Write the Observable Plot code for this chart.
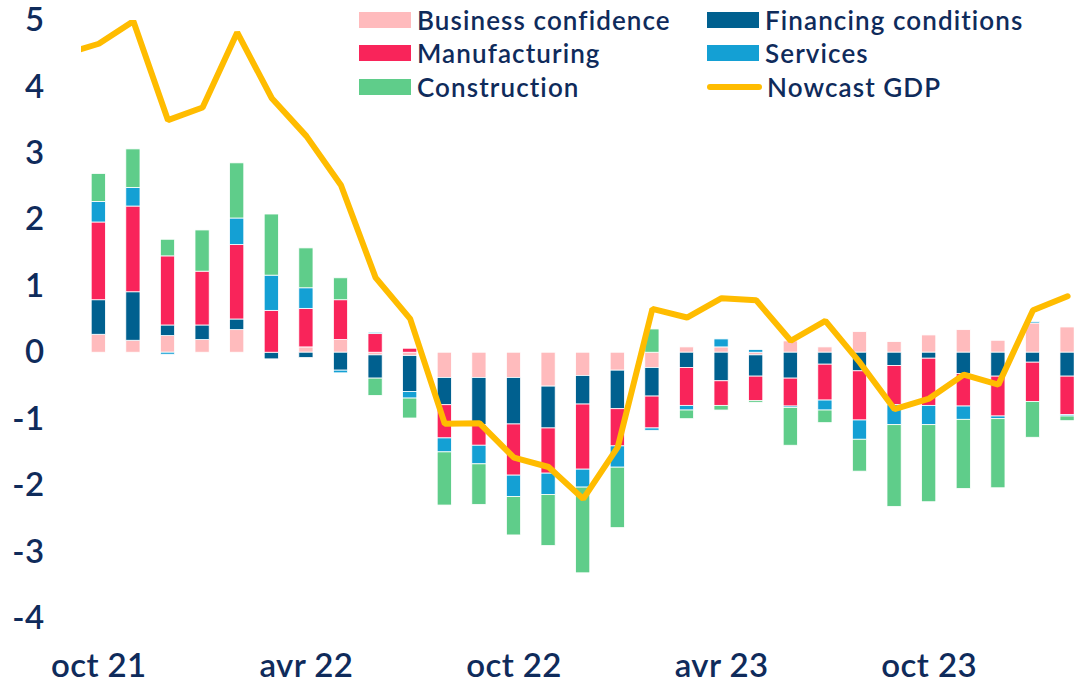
<!DOCTYPE html>
<html>
<head>
<meta charset="utf-8">
<script src="https://cdn.jsdelivr.net/npm/d3@7"></script>
<script src="https://cdn.jsdelivr.net/npm/@observablehq/plot@0.6"></script>
<style>
  html, body { margin: 0; padding: 0; background: #ffffff; }
  #wrap { position: relative; width: 1074px; height: 684px; overflow: hidden; font-family: Lato, "Noto Sans", sans-serif; color: #0F2B5B; }
  #legend { position: absolute; left: 359px; top: 3px; display: grid; grid-template-columns: 348px auto; grid-auto-rows: 33.5px; }
  .item { display: flex; align-items: center; font-size: 26px; font-weight: 600; letter-spacing: 1.1px; white-space: nowrap; }
  .sw { width: 52px; height: 16px; margin-right: 6px; flex: none; }
  .ln { width: 55px; height: 6px; border-radius: 3px; margin-right: 5px; flex: none; }
</style>
</head>
<body>
<div id="wrap"><div id="chart"></div><div id="legend"></div></div>
<script>
// Months (first one, sept 21, only carries the Nowcast GDP point that leads into the chart)
const months = ["sept 21","oct 21","nov 21","déc 21","janv 22","févr 22","mars 22","avr 22","mai 22","juin 22","juil 22","août 22","sept 22","oct 22","nov 22","déc 22","janv 23","févr 23","mars 23","avr 23","mai 23","juin 23","juil 23","août 23","sept 23","oct 23","nov 23","déc 23","janv 24","févr 24"];

const businessConfidence = [null, 0.27,0.18,0.25,0.19,0.34,0,0.08,0.19,-0.04,-0.05,-0.38,-0.38,-0.38,-0.51,-0.35,-0.27,-0.23,0.08,0.08,-0.04,0.17,0.08,0.31,0.16,0.26,0.34,0.18,0.44,0.38];
const financingConditions = [null, 0.52,0.73,0.16,0.22,0.16,-0.10,-0.08,-0.27,-0.35,-0.54,-0.41,-0.71,-0.70,-0.63,-0.43,-0.58,-0.43,-0.23,-0.43,-0.32,-0.39,-0.18,-0.28,-0.20,-0.09,-0.32,-0.36,-0.15,-0.36];
const manufacturing = [null, 1.17,1.29,1.04,0.81,1.12,0.63,0.58,0.60,0.28,0.06,-0.50,-0.31,-0.77,-0.68,-0.98,-0.56,-0.48,-0.57,-0.37,-0.37,-0.42,-0.54,-0.74,-0.59,-0.71,-0.49,-0.60,-0.59,-0.58];
const services = [null, 0.31,0.28,-0.03,0,0.40,0.53,0.31,-0.04,0.02,-0.10,-0.21,-0.28,-0.32,-0.32,-0.27,-0.32,-0.035,-0.07,0.12,0.04,-0.02,-0.15,-0.29,-0.30,-0.29,-0.20,-0.04,0.02,-0.02];
const construction = [null, 0.42,0.58,0.25,0.62,0.83,0.92,0.60,0.33,-0.26,-0.30,-0.80,-0.61,-0.58,-0.77,-1.29,-0.91,0.35,-0.13,-0.07,-0.025,-0.57,-0.19,-0.48,-1.23,-1.16,-1.04,-1.04,-0.54,-0.07];
const nowcastGDP = [4.49, 4.65,4.99,3.50,3.69,4.82,3.83,3.26,2.52,1.13,0.51,-1.07,-1.06,-1.58,-1.72,-2.20,-1.42,0.66,0.53,0.82,0.79,0.18,0.48,-0.15,-0.85,-0.69,-0.33,-0.48,0.64,0.85];

const seriesNames = ["Business confidence","Financing conditions","Manufacturing","Services","Construction"];
const seriesValues = [businessConfidence, financingConditions, manufacturing, services, construction];
const seriesColors = ["#FFBBBD","#00608F","#F9245A","#14A0D4","#5FCD8A"];
const lineName = "Nowcast GDP";
const lineColor = "#FFBC00";
const yTicks = [-4,-3,-2,-1,0,1,2,3,4,5];
const xTickLabels = ["oct 21","avr 22","oct 22","avr 23","oct 23"];

// Build tidy tables
const bars = [];
months.forEach((m, i) => {
  seriesNames.forEach((s, k) => {
    const v = seriesValues[k][i];
    if (v !== null && v !== undefined) bars.push({i, month: m, series: s, value: v});
  });
});
const gdp = nowcastGDP.map((v, i) => ({i, month: months[i], value: v}));
const xTicks = xTickLabels.map(l => months.indexOf(l));

const chart = Plot.plot({
  width: 1074,
  height: 684,
  marginTop: 20,
  marginBottom: 66,
  marginLeft: 81,
  marginRight: 0,
  style: {fontFamily: "Lato, 'Noto Sans', sans-serif", fontWeight: 600, letterSpacing: "0.4px", color: "#0F2B5B", background: "#ffffff", overflow: "visible"},
  x: {type: "linear", domain: [0.5, 29.2]},
  y: {domain: [-4, 5]},
  color: {domain: seriesNames, range: seriesColors},
  marks: [
    Plot.rectY(bars, {
      x1: d => d.i - 0.5,
      x2: d => d.i + 0.5,
      y: "value",
      fill: "series",
      insetLeft: 10.2,
      insetRight: 10.2,
      stroke: "#ffffff",
      strokeWidth: 0.8
    }),
    Plot.line(gdp, {x: "i", y: "value", stroke: lineColor, strokeWidth: 6, strokeLinejoin: "miter", clip: true}),
    Plot.axisY({ticks: yTicks, tickSize: 0, tickPadding: 37, fontSize: 33, label: null, tickFormat: d => String(d)}),
    Plot.axisX({ticks: xTicks, tickSize: 0, tickPadding: 35.5, fontSize: 33, label: null, tickFormat: i => months[i]})
  ]
});
document.getElementById("chart").appendChild(chart);

// Legend (overlaid on the chart, two columns, row-major)
const legend = document.getElementById("legend");
const items = seriesNames.map((s, k) => ({name: s, color: seriesColors[k], type: "rect"}))
  .concat([{name: lineName, color: lineColor, type: "line"}]);
items.forEach(it => {
  const div = document.createElement("div");
  div.className = "item";
  const sw = document.createElement("span");
  sw.className = it.type === "rect" ? "sw" : "ln";
  sw.style.background = it.color;
  const t = document.createElement("span");
  t.textContent = it.name;
  div.appendChild(sw);
  div.appendChild(t);
  legend.appendChild(div);
});
</script>
</body>
</html>
